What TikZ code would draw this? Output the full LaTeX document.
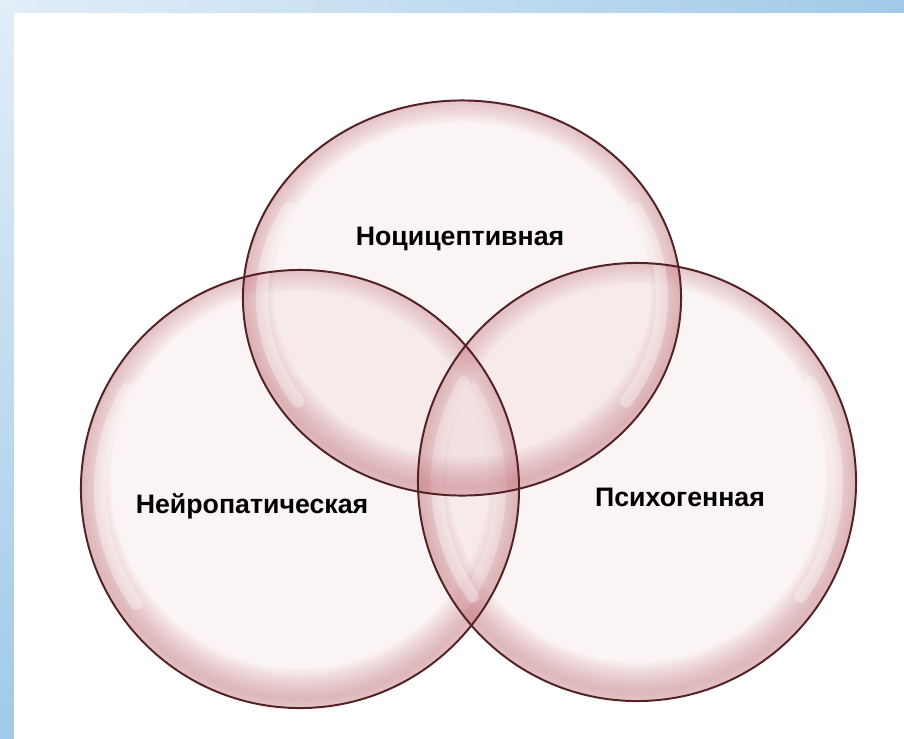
\documentclass[tikz,border=0pt]{standalone}
\usepackage{fontspec}
\setmainfont{Liberation Sans}
\usetikzlibrary{shapes.geometric}
\definecolor{rimred}{RGB}{84,34,36}
\definecolor{bubtint}{RGB}{222,170,174}
\definecolor{bubrose}{RGB}{204,130,138}
\definecolor{skyblue}{RGB}{160,202,232}
\definecolor{skypale}{RGB}{226,238,248}

\begin{document}
\begin{tikzpicture}[x=0.025cm,y=0.025cm,
  ring/.style={circle,inner sep=0pt,draw=rimred,line width=1.4pt},
  glow/.style={bubrose,draw opacity=0.045},
  gloss/.style={white,draw opacity=0.35,line width=0.3cm,line cap=round},
  tag/.style={font=\bfseries\fontsize{19}{22}\selectfont,inner sep=0pt,anchor=base}]
  \useasboundingbox (0,0) rectangle (904,-739);
  \shade[left color=skypale,right color=skyblue] (0,0) rectangle (904,-13);
  \shade[top color=skypale,bottom color=skyblue] (0,0) rectangle (14,-739);
  \fill[white] (14,-13) rectangle (904,-739);
  % bubbles: tint, rosy rim, white gloss
  \foreach \cx/\cy/\sy in {300/-489/1, 637/-482/1, 462/-298/0.902} {
    \begin{scope}[shift={(\cx,\cy)},yscale=\sy]
      \clip (0,0) circle (219);
      \fill[bubtint,fill opacity=0.13] (0,0) circle (219);
      \foreach \w in {4,8,...,60}
        \draw[glow,line width=\w*0.025cm] (0,9) circle (219);
      \draw[gloss] (150:200) arc (150:215:200);
      \draw[gloss] (-35:200) arc (-35:30:200);
    \end{scope}
  }
  \node[ring,minimum size=10.95cm] (neiro) at (300,-489) {};
  \node[ring,minimum size=10.95cm] (psycho) at (637,-482) {};
  \node[ring,ellipse,minimum width=10.95cm,minimum height=9.875cm] (noci) at (462,-298) {};
  \node[tag] (nociL) at (460,-245) {Ноцицептивная};
  \node[tag] (neiroL) at (252,-513) {Нейропатическая};
  \node[tag] (psychoL) at (680,-506) {Психогенная};
\end{tikzpicture}
\end{document}
